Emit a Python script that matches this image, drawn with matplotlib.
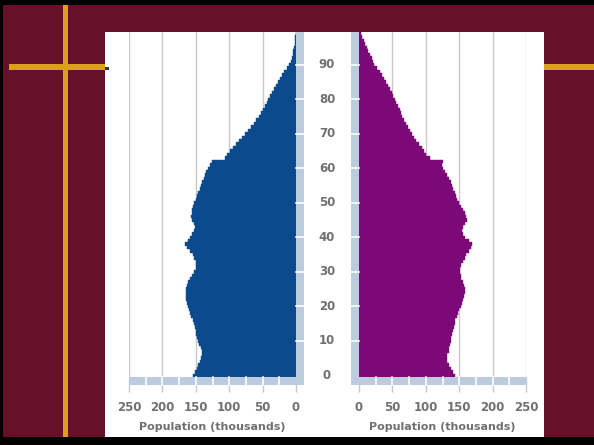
import matplotlib.pyplot as plt
from matplotlib.patches import Rectangle
from matplotlib.transforms import blended_transform_factory as blend
import numpy as np

# single years of age, one bar per year
ages = np.arange(100)

male = [154, 151, 148, 146, 143, 142, 141, 140, 142, 145,
        146, 148, 149, 150, 151, 153, 154, 157, 159, 160,
        161, 163, 164, 165, 165, 164, 163, 161, 158, 155,
        152, 150, 149, 150, 152, 154, 159, 163, 166, 162,
        158, 155, 153, 151, 153, 156, 157, 156, 155, 154,
        152, 150, 148, 146, 144, 142, 140, 138, 136, 134,
        131, 128, 126, 106, 103, 99, 95, 90, 85, 81,
        76, 72, 67, 63, 60, 56, 53, 50, 47, 44,
        42, 39, 36, 33, 30, 27, 24, 21, 18, 14,
        10, 8, 6, 5, 4, 3, 2, 1, 1, 0.5]

female = [144, 140, 137, 134, 132, 131, 132, 134, 135, 136,
          137, 138, 139, 141, 142, 143, 144, 146, 148, 150,
          152, 154, 156, 157, 158, 158, 157, 155, 153, 152,
          151, 151, 152, 155, 158, 160, 164, 168, 169, 164,
          159, 156, 154, 155, 158, 161, 160, 158, 156, 153,
          149, 147, 145, 143, 141, 139, 137, 134, 131, 128,
          125, 124, 126, 106, 101, 98, 95, 90, 85, 82,
          79, 77, 74, 71, 68, 65, 63, 61, 58, 56,
          54, 51, 49, 46, 44, 40, 37, 34, 31, 27,
          23, 21, 19, 17, 14, 12, 9, 7, 5, 3]

pop_ticks = [0, 50, 100, 150, 200, 250]
age_ticks = [0, 10, 20, 30, 40, 50, 60, 70, 80, 90]

W, H = 594, 445
MAROON = '#661029'
GOLD = '#dca01a'
BLUE = '#0b4a8c'
PURPLE = '#7b0a78'
BAND = '#bccbdd'
GRID = '#c8c8c8'
TEXT = '#707070'

fig = plt.figure(figsize=(W / 100, H / 100), dpi=100, facecolor=MAROON)


def box(x0, y0, x1, y1, color, z=-2):
    # rectangle given in pixels from the top-left corner
    fig.add_artist(Rectangle((x0 / W, 1 - y1 / H), (x1 - x0) / W, (y1 - y0) / H,
                             transform=fig.transFigure, facecolor=color,
                             edgecolor='none', zorder=z))


def axes_px(x0, y0, x1, y1):
    return fig.add_axes([x0 / W, 1 - y1 / H, (x1 - x0) / W, (y1 - y0) / H])


# frame, gold rules and the white slide panel
box(0, 0, W, 5, 'black')
box(0, 0, 3, H, 'black')
box(0, 437, W, H, 'black')
box(63, 5, 68, 437, GOLD)
box(9, 64, 105, 70, GOLD)
box(544, 64, W, 70, GOLD)
box(105, 32, 544, 437, 'white', z=-1)
box(105, 67, 109, 70, '#333333', z=0)

ax_m = axes_px(129, 32, 296, 377)
ax_f = axes_px(359, 32, 526, 377)

bh = 8 / 345  # band thickness in axes units
bw = 8 / 167


def pyramid(ax, values, color, inner):
    ax.barh(ages, values, height=1, align='edge', color=color,
            edgecolor=color, linewidth=0.3, zorder=2)
    ax.set_ylim(0, 100)
    ax.set_facecolor('none')
    for s in ax.spines.values():
        s.set_visible(False)
    ax.set_axisbelow(True)
    ax.xaxis.grid(True, color=GRID, linewidth=1)
    ax.set_yticks([])
    ax.set_xticks(pop_ticks)
    ax.tick_params(axis='x', length=11, width=1, color=GRID, pad=6,
                   labelsize=8.5, labelcolor=TEXT)
    for lab in ax.get_xticklabels():
        lab.set_fontweight('bold')
    ax.set_xlabel('Population (thousands)', fontsize=8, color=TEXT,
                  fontweight='bold', labelpad=6)

    # shaded axis bands with white separators
    x_band = 1 if inner == 'right' else -bw
    ax.add_patch(Rectangle((x_band, -bh), bw, 1 + bh, transform=ax.transAxes,
                           facecolor=BAND, edgecolor='none', clip_on=False, zorder=3))
    bx0 = 0 if inner == 'right' else -bw
    ax.add_patch(Rectangle((bx0, -bh), 1 + bw, bh, transform=ax.transAxes,
                           facecolor=BAND, edgecolor='none', clip_on=False, zorder=3))
    ty = blend(ax.transAxes, ax.transData)
    for a in age_ticks[1:]:
        ax.plot([x_band, x_band + bw], [a + 0.5] * 2, transform=ty, color='white',
                linewidth=1.2, clip_on=False, zorder=4)
    tx = blend(ax.transData, ax.transAxes)
    for v in range(25, 250, 25):
        ax.plot([v, v], [-bh, 0], transform=tx, color='white',
                linewidth=1.2, clip_on=False, zorder=4)


pyramid(ax_m, male, BLUE, 'right')
ax_m.set_xlim(250, 0)
pyramid(ax_f, female, PURPLE, 'left')
ax_f.set_xlim(0, 250)

# age labels between the two halves
lab_tr = blend(fig.transFigure, ax_f.transData)
for a in age_ticks:
    fig.text(327 / W, a + 0.5, str(a), transform=lab_tr, ha='center', va='center',
             fontsize=8.5, color=TEXT, fontweight='bold')

fig.savefig('out.png', dpi=100, facecolor=MAROON)
